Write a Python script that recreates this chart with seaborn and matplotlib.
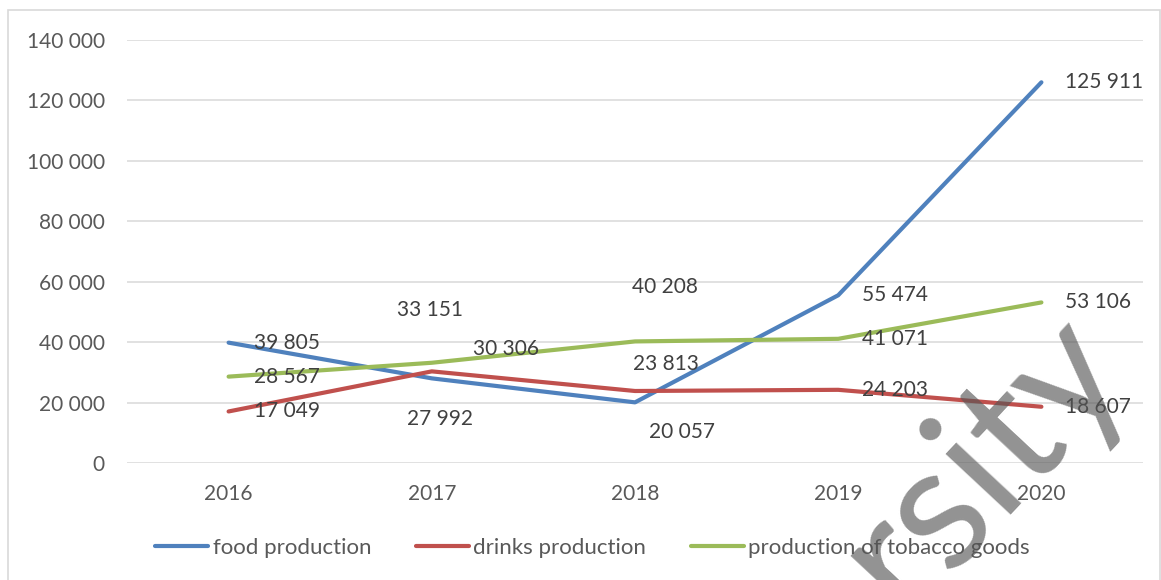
import matplotlib
matplotlib.use("Agg")
import matplotlib.pyplot as plt
from matplotlib.patches import Rectangle
from matplotlib.ticker import FuncFormatter
import seaborn as sns
import pandas as pd

# ---- data ----
years = ["2016", "2017", "2018", "2019", "2020"]
food = [39805, 27992, 20057, 55474, 125911]
drinks = [17049, 30306, 23813, 24203, 18607]
tobacco = [28567, 33151, 40208, 41071, 53106]
series_names = ["food production", "drinks production", "production of tobacco goods"]
y_ticks = [0, 20000, 40000, 60000, 80000, 100000, 120000, 140000]

colors = ["#4F81BD", "#C0504D", "#9BBB59"]

df = pd.DataFrame({
    "year": years * 3,
    "value": food + drinks + tobacco,
    "series": [n for n in series_names for _ in years],
})

sns.set_theme(style="white")
plt.rcParams["font.family"] = ["Lato", "DejaVu Sans"]
FS = 15

def fmt(v):
    return f"{int(v):,}".replace(",", " ")

fig = plt.figure(figsize=(11.61, 5.80), dpi=100)
ax = fig.add_axes([127 / 1161, 1 - 463 / 580, (1143 - 127) / 1161, (463 - 39.7) / 580])

sns.lineplot(data=df, x="year", y="value", hue="series", hue_order=series_names,
             palette=colors, linewidth=3, ax=ax, legend=True, sort=False)
for ln in ax.get_lines():
    ln.set_solid_capstyle("round")
    ln.set_solid_joinstyle("round")

ax.set_xlim(-0.5, 4.5)
ax.set_ylim(0, 140000)
ax.set_yticks(y_ticks)
ax.yaxis.set_major_formatter(FuncFormatter(lambda v, p: fmt(v)))
ax.grid(axis="y", color="#d9d9d9", linewidth=1.1)
ax.grid(axis="x", visible=False)
ax.set_axisbelow(True)
for s in ax.spines.values():
    s.set_visible(False)
ax.set_xlabel("")
ax.set_ylabel("")
ax.tick_params(axis="x", length=0, pad=15, labelsize=FS, labelcolor="#595959")
ax.tick_params(axis="y", length=0, pad=16, labelsize=FS, labelcolor="#595959")

# data labels: offsets in pixels (dx, dy, ha)
offsets = {
    "food production": [(25, 0, "left"), (8, -41, "center"), (47, -30, "center"), (24, 0, "left"), (24, 0, "left")],
    "drinks production": [(25, 0, "left"), (41, 22, "left"), (31, 27, "center"), (24, 0, "left"), (24, 0, "left")],
    "production of tobacco goods": [(25, 0, "left"), (-2, 53, "center"), (30, 54, "center"), (24, 0, "left"), (24, 0, "left")],
}
values = {"food production": food, "drinks production": drinks, "production of tobacco goods": tobacco}
for name in series_names:
    for i, v in enumerate(values[name]):
        dx, dy, ha = offsets[name][i]
        ax.annotate(fmt(v), xy=(i, v), xytext=(dx, dy), textcoords="offset pixels",
                    ha=ha, va="center", fontsize=FS, color="#404040", zorder=5)

leg = ax.legend(loc="center", bbox_to_anchor=(592.5 / 1161, 1 - 548 / 580),
                bbox_transform=fig.transFigure, ncol=3, frameon=False,
                fontsize=16, handlelength=2.4, handletextpad=0.2, columnspacing=2.0)
for t in leg.get_texts():
    t.set_color("#595959")
for h in leg.legend_handles:
    h.set_linewidth(3)
    h.set_solid_capstyle("round")

# chart frame
fig.patches.append(Rectangle((8 / 1161, -0.01), (1160 - 8) / 1161, 1 - 10 / 580 + 0.01,
                             transform=fig.transFigure, fill=False,
                             edgecolor="#d9d9d9", linewidth=1.2))

# watermark
fig.text(904 / 1161, 1 - 617 / 580, "rsity", rotation=47, rotation_mode="anchor",
         ha="left", va="baseline", fontsize=126, fontweight="normal",
         color="#555555", alpha=0.64, zorder=20)

fig.savefig("out.png", dpi=100)
